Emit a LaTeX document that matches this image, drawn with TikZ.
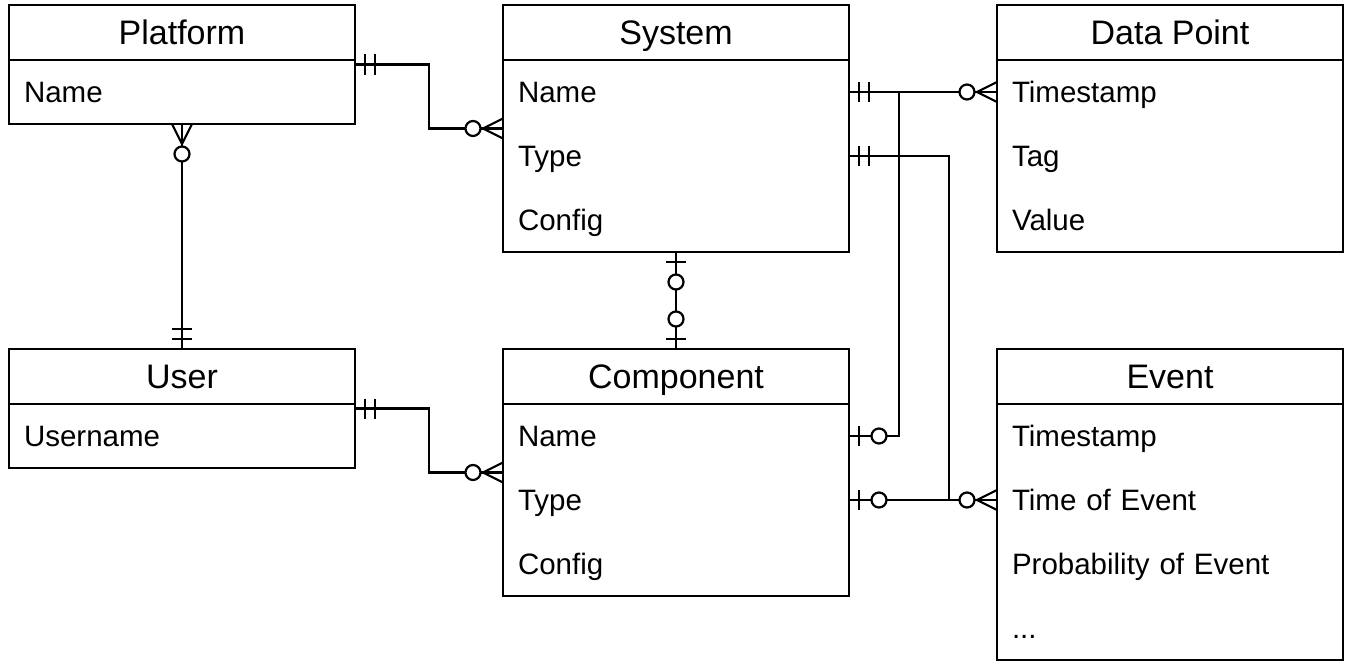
\documentclass[tikz,border=0pt]{standalone}
\usepackage{fontspec}
\setmainfont{Liberation Sans}
\usetikzlibrary{positioning,fit}

\newcommand{\headfont}{\fontsize{34}{40}\selectfont}
\newcommand{\fieldfont}{\fontsize{29.5}{35}\selectfont}

% relationship ends: #1 anchor, #2 direction away from the entity
\newcommand{\ermone}[2]{%
  \begin{scope}[shift={(#1)}, rotate=#2]
    \draw (10,-10) -- (10,10) (20,-10) -- (20,10);
  \end{scope}}
\newcommand{\ermzeroone}[2]{%
  \begin{scope}[shift={(#1)}, rotate=#2]
    \draw (10,-10) -- (10,10);
    \draw[fill=white] (30,0) circle (7.5pt);
  \end{scope}}
\newcommand{\ermzeromany}[2]{%
  \begin{scope}[shift={(#1)}, rotate=#2]
    \draw (0,-10) -- (20,0) -- (0,10);
    \draw[fill=white] (30,0) circle (7.5pt);
  \end{scope}}

\begin{document}
\begin{tikzpicture}[
  x=1pt, y=-1pt, line width=2.2pt,
  every node/.style={inner sep=0pt, outer sep=0pt},
  head/.style={minimum width=346pt, minimum height=55pt, font=\headfont,
               text height=24.5pt, text depth=0pt},
  field/.style={minimum height=64pt, text width=316pt, inner xsep=15pt,
                align=left, font=\fieldfont,
                text height=21.2pt, text depth=0pt}
]
\useasboundingbox (0,0) rectangle (1348,661);

% Platform
\node[head, anchor=north] (plathead) at (182,5) {Platform};
\node[field, below=0pt of plathead] (platname) {Name};
\node[draw, fit=(plathead)(platname)] (plat) {};
\draw (plathead.south west) -- (plathead.south east);

% System
\node[head, anchor=north] (syshead) at (676,5) {System};
\node[field, below=0pt of syshead] (sysname) {Name};
\node[field, below=0pt of sysname] (systype) {Type};
\node[field, below=0pt of systype] (sysconf) {Config};
\node[draw, fit=(syshead)(sysconf)] (sys) {};
\draw (syshead.south west) -- (syshead.south east);

% Data Point
\node[head, anchor=north] (dphead) at (1170,5) {Data Point};
\node[field, below=0pt of dphead] (dpstamp) {Timestamp};
\node[field, below=0pt of dpstamp] (dptag) {Tag};
\node[field, below=0pt of dptag] (dpvalue) {Value};
\node[draw, fit=(dphead)(dpvalue)] (dp) {};
\draw (dphead.south west) -- (dphead.south east);

% User
\node[head, anchor=north] (userhead) at (182,349) {User};
\node[field, below=0pt of userhead] (username) {Username};
\node[draw, fit=(userhead)(username)] (user) {};
\draw (userhead.south west) -- (userhead.south east);

% Component
\node[head, anchor=north] (comphead) at (676,349) {Component};
\node[field, below=0pt of comphead] (compname) {Name};
\node[field, below=0pt of compname] (comptype) {Type};
\node[field, below=0pt of comptype] (compconf) {Config};
\node[draw, fit=(comphead)(compconf)] (comp) {};
\draw (comphead.south west) -- (comphead.south east);

% Event
\node[head, anchor=north] (evhead) at (1170,349) {Event};
\node[field, below=0pt of evhead] (evstamp) {Timestamp};
\node[field, below=0pt of evstamp] (evtime) {Time of Event};
\node[field, below=0pt of evtime] (evprob) {Probability of Event};
\node[field, below=0pt of evprob] (evmore) {...};
\node[draw, fit=(evhead)(evmore)] (ev) {};
\draw (evhead.south west) -- (evhead.south east);

% relationships
\draw (plat.east) -- ++(74,0) |- (sys.west);
\draw (plat.south) -- (user.north);
\draw (user.east) -- ++(74,0) |- (comp.west);
\draw (sys.south) -- (comp.north);
\draw (sysname.east) -- (dpstamp.west);
\draw (sysname.east) -- ++(50,0) |- (compname.east);
\draw (systype.east) -- ++(100,0) |- (evtime.west);
\draw (comptype.east) -- (evtime.west);

\ermone{plat.east}{0}
\ermzeromany{sys.west}{180}
\ermzeromany{plat.south}{270}
\ermone{user.north}{90}
\ermone{user.east}{0}
\ermzeromany{comp.west}{180}
\ermzeroone{sys.south}{270}
\ermzeroone{comp.north}{90}
\ermone{sysname.east}{0}
\ermzeromany{dpstamp.west}{180}
\ermzeroone{compname.east}{0}
\ermone{systype.east}{0}
\ermzeromany{evtime.west}{180}
\ermzeroone{comptype.east}{0}
\end{tikzpicture}
\end{document}
